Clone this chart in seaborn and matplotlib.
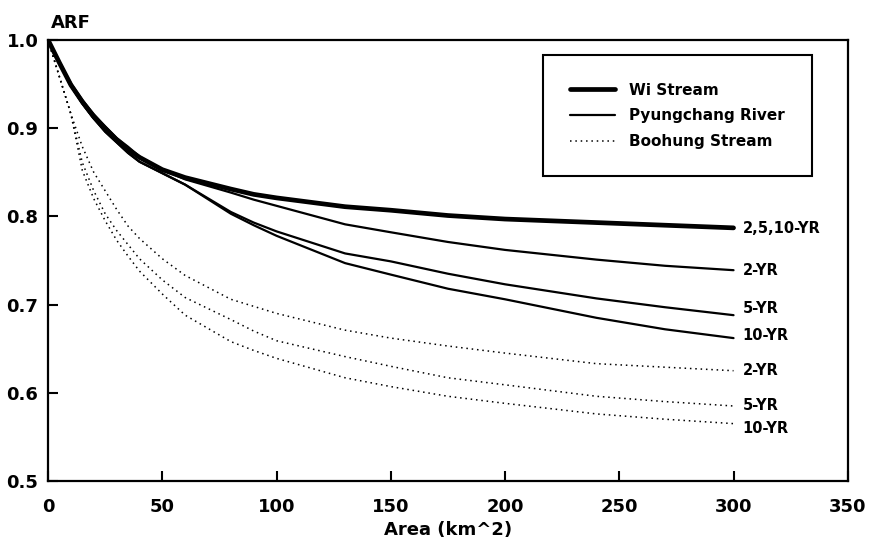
import pandas as pd
import matplotlib.pyplot as plt
import seaborn as sns

# values
area = [0, 5, 10, 15, 20, 25, 30, 35, 40, 50, 60, 80, 90, 100, 130, 150, 175, 200, 240, 270, 300]

wi_all = [1.0, 0.974, 0.949, 0.930, 0.913, 0.900, 0.887, 0.876, 0.867, 0.853, 0.844, 0.831, 0.825, 0.821,
          0.811, 0.807, 0.801, 0.797, 0.793, 0.790, 0.787]

pyung_2 = [1.0, 0.975, 0.951, 0.932, 0.916, 0.902, 0.889, 0.879, 0.868, 0.853, 0.842, 0.827, 0.819, 0.812,
           0.791, 0.782, 0.771, 0.762, 0.751, 0.744, 0.739]
pyung_5 = [1.0, 0.973, 0.948, 0.928, 0.911, 0.896, 0.884, 0.872, 0.862, 0.849, 0.836, 0.805, 0.793, 0.783,
           0.758, 0.749, 0.735, 0.723, 0.707, 0.697, 0.688]
pyung_10 = [1.0, 0.973, 0.948, 0.928, 0.911, 0.896, 0.884, 0.872, 0.862, 0.849, 0.836, 0.803, 0.790, 0.778,
            0.747, 0.734, 0.718, 0.706, 0.685, 0.672, 0.662]

boo_2 = [1.0, 0.958, 0.916, 0.879, 0.850, 0.829, 0.808, 0.789, 0.775, 0.752, 0.733, 0.706, 0.698, 0.690,
         0.671, 0.662, 0.653, 0.645, 0.633, 0.629, 0.625]
boo_5 = [1.0, 0.958, 0.916, 0.861, 0.829, 0.803, 0.784, 0.768, 0.752, 0.728, 0.708, 0.683, 0.670, 0.659,
         0.641, 0.630, 0.617, 0.609, 0.596, 0.590, 0.585]
boo_10 = [1.0, 0.958, 0.916, 0.852, 0.820, 0.795, 0.773, 0.755, 0.738, 0.712, 0.688, 0.658, 0.648, 0.639,
          0.617, 0.607, 0.596, 0.588, 0.576, 0.570, 0.565]

end_labels = ['2,5,10-YR', '2-YR', '5-YR', '10-YR', '2-YR', '5-YR', '10-YR']
label_y = [0.786, 0.739, 0.695, 0.665, 0.625, 0.586, 0.560]

sns.set_style('ticks')
plt.rcParams['font.family'] = ['DejaVu Sans']
plt.rcParams['font.weight'] = 'bold'
plt.rcParams['text.color'] = 'black'
plt.rcParams['axes.labelcolor'] = 'black'
plt.rcParams['xtick.color'] = 'black'
plt.rcParams['ytick.color'] = 'black'

fig = plt.figure(figsize=(8.74, 5.41), dpi=100)
ax = fig.add_axes([0.055, 0.111, 0.915, 0.815])

dotted = (0, (1, 2.5))
series = [
    ('Wi Stream', wi_all, 3.4, '-'),
    ('Pyungchang River', pyung_2, 1.6, '-'),
    (None, pyung_5, 1.6, '-'),
    (None, pyung_10, 1.6, '-'),
    ('Boohung Stream', boo_2, 1.1, dotted),
    (None, boo_5, 1.1, dotted),
    (None, boo_10, 1.1, dotted),
]
for name, vals, lw, ls in series:
    df = pd.DataFrame({'Area': area, 'ARF': vals})
    sns.lineplot(data=df, x='Area', y='ARF', ax=ax, color='black', lw=lw,
                 linestyle=ls, label=name, legend=False)

for txt, yv in zip(end_labels, label_y):
    ax.text(304, yv, txt, fontsize=10.5, fontweight='bold', ha='left', va='center')

ax.set_xlim(0, 350)
ax.set_ylim(0.5, 1.0)
ax.set_xticks(range(0, 351, 50))
ax.set_yticks([0.5, 0.6, 0.7, 0.8, 0.9, 1.0])
ax.set_yticklabels(['0.5', '0.6', '0.7', '0.8', '0.9', '1.0'])
ax.tick_params(direction='in', length=7, width=1.5, labelsize=13)
ax.tick_params(axis='y', pad=7)
ax.tick_params(axis='x', pad=12)
for sp in ax.spines.values():
    sp.set_linewidth(1.6)
    sp.set_color('black')

ax.set_xlabel('Area (km^2)', fontsize=13, fontweight='bold', labelpad=4)
ax.set_ylabel('')
ax.text(0.003, 1.027, 'ARF', transform=ax.transAxes, fontsize=13, fontweight='bold',
        ha='left', va='baseline')

handles, labels = ax.get_legend_handles_labels()
leg = ax.legend(handles, labels, loc='upper right', bbox_to_anchor=(0.955, 0.966),
                frameon=True, fancybox=False, framealpha=1, edgecolor='black',
                prop={'weight': 'bold', 'size': 11}, handlelength=2.9,
                labelspacing=0.7, borderpad=1.8, handletextpad=0.9, borderaxespad=0)
leg.get_frame().set_linewidth(1.5)

fig.savefig('out.png', dpi=100)
